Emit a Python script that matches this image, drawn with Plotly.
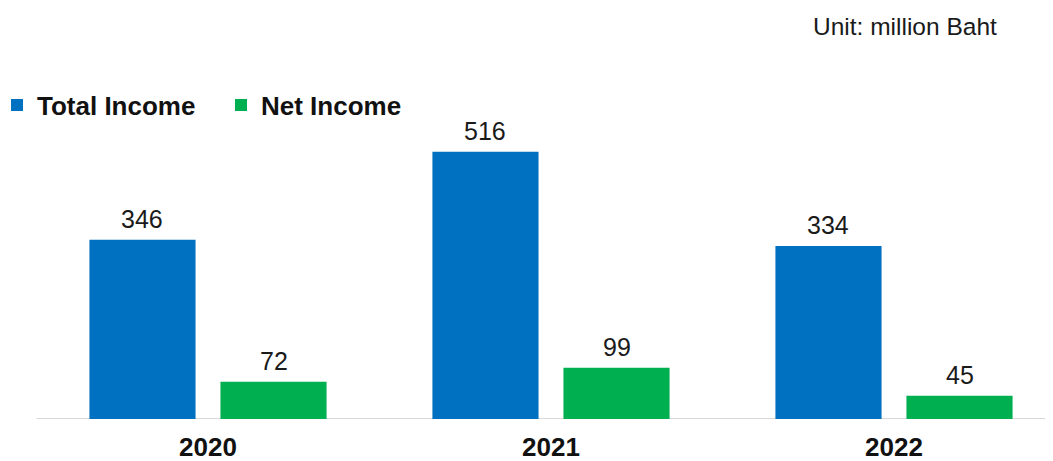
import plotly.graph_objects as go

years = ["2020", "2021", "2022"]
total_income = [346, 516, 334]
net_income = [72, 99, 45]
series_names = ["Total Income", "Net Income"]
unit_text = "Unit: million Baht"

# The page body has an 8px margin, so the figure is drawn 8px in from the window edge.
PAGE_OFF = 8
W, H = 1053 - PAGE_OFF, 461 - PAGE_OFF
axis_left_px = 36.5 - PAGE_OFF
plot_bottom_px = 419 - PAGE_OFF
plot_top_px = 40 - PAGE_OFF
px_per_unit = 0.518
cat_px = 343
bargap, bargroupgap = 0.236, 0.19

x_start = -0.5 - axis_left_px / cat_px
x_end = x_start + W / cat_px
y_max = (plot_bottom_px - plot_top_px) / px_per_unit
plot_h = plot_bottom_px - plot_top_px
slot_px = cat_px * (1 - bargap) / 2

FONT = "Liberation Sans, Arial, sans-serif"
colors = ["#0070C0", "#00B050"]
series_values = [total_income, net_income]

fig = go.Figure()
for name, vals, col in zip(series_names, series_values, colors):
    fig.add_trace(go.Bar(
        x=years, y=vals, name="<b>%s</b>" % name,
        marker=dict(color=col, line=dict(width=0)),
        cliponaxis=False,
    ))

annotations = []
for k, vals in enumerate(series_values):
    shift = (-0.5 + k) * slot_px
    for i, v in enumerate(vals):
        annotations.append(dict(
            x=i, y=v, xref="x", yref="y", text=str(v), showarrow=False,
            xanchor="center", yanchor="bottom", xshift=shift, yshift=5,
            font=dict(family=FONT, size=25, color="#1a1a1a"),
        ))
annotations.append(dict(
    text=unit_text, xref="paper", yref="paper",
    x=(996 - PAGE_OFF + 3) / W, y=(plot_bottom_px - (26.5 - PAGE_OFF)) / plot_h,
    xanchor="right", yanchor="middle", showarrow=False,
    font=dict(family=FONT, size=24.5, color="#1a1a1a"),
))

fig.update_layout(
    width=W, height=H,
    margin=dict(l=0, r=0, t=plot_top_px, b=H - plot_bottom_px, pad=0, autoexpand=False),
    paper_bgcolor="white", plot_bgcolor="white",
    barmode="group", bargap=bargap, bargroupgap=bargroupgap,
    showlegend=True,
    legend=dict(
        orientation="h", x=-11 / W, xanchor="left",
        y=(plot_bottom_px - (105 - PAGE_OFF)) / plot_h, yanchor="middle",
        font=dict(family=FONT, size=26, color="#111111"),
        bgcolor="rgba(0,0,0,0)", entrywidth=179,
    ),
    xaxis=dict(
        type="category", range=[x_start, x_end], showgrid=False, zeroline=False, showline=False,
        ticks="", ticklabelstandoff=10, automargin=False,
        tickfont=dict(family=FONT, size=26, color="#111111"),
        tickvals=years, ticktext=["<b>%s</b>" % y for y in years],
    ),
    yaxis=dict(range=[0, y_max], visible=False),
    shapes=[dict(
        type="line", xref="paper", yref="y", x0=axis_left_px / W, x1=1, y0=0, y1=0,
        line=dict(color="#d9d9d9", width=2), layer="below",
    )],
    annotations=annotations,
)

fig.write_html("out.html")
